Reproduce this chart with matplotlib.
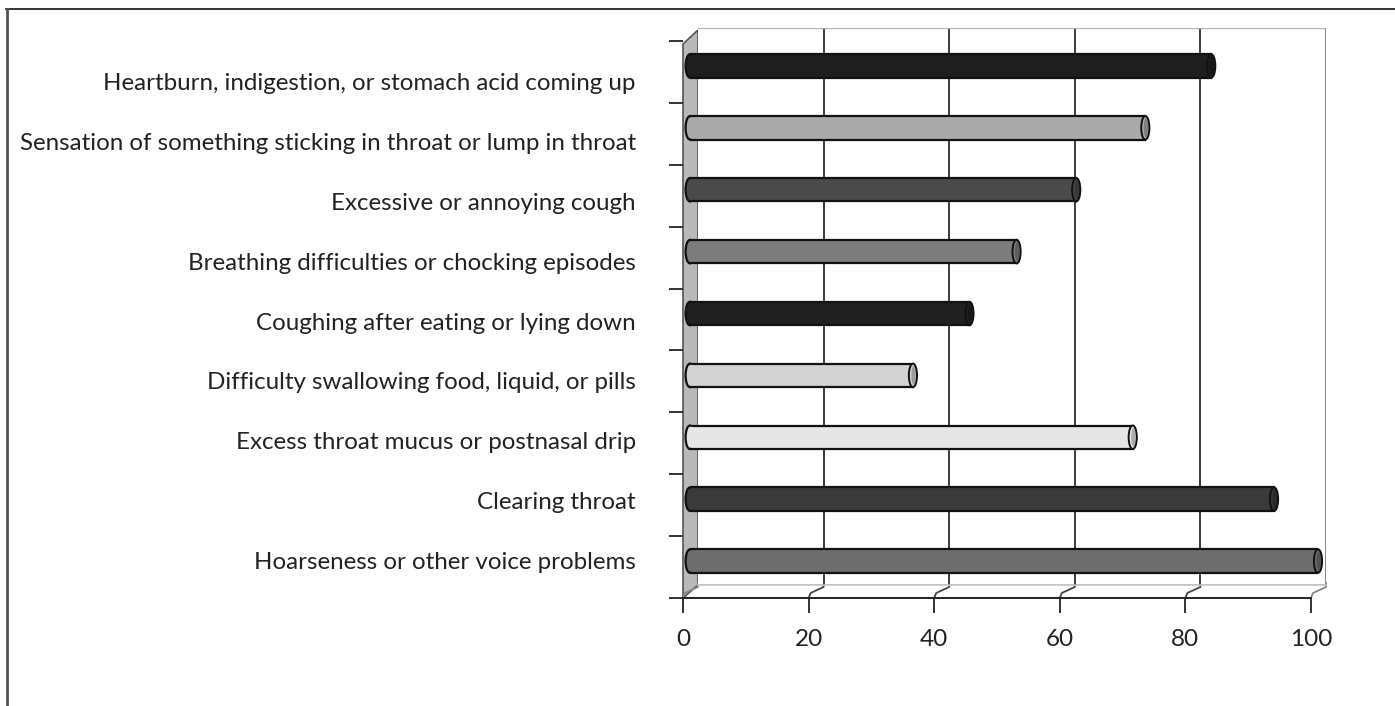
import matplotlib
matplotlib.use("Agg")
import matplotlib.pyplot as plt
from matplotlib.patches import Polygon, Ellipse
from matplotlib.lines import Line2D
from matplotlib.transforms import Affine2D

# symptoms, bottom to top
symptoms = [
    "Hoarseness or other voice problems",
    "Clearing throat",
    "Excess throat mucus or postnasal drip",
    "Difficulty swallowing food, liquid, or pills",
    "Coughing after eating or lying down",
    "Breathing difficulties or chocking episodes",
    "Excessive or annoying cough",
    "Sensation of something sticking in throat or lump in throat",
    "Heartburn, indigestion, or stomach acid coming up",
]
values = [100, 93, 70.5, 35.5, 44.5, 52, 61.5, 72.5, 83]
bar_colors = ["#6e6e6e", "#3a3a3a", "#e6e6e6", "#d2d2d2", "#202020",
              "#7c7c7c", "#4a4a4a", "#aaaaaa", "#1e1e1e"]
xticks = [0, 20, 40, 60, 80, 100]

W, H = 1395, 706
plt.rcParams['font.family'] = ['Lato', 'DejaVu Sans']
fig = plt.figure(figsize=(W / 100, H / 100), dpi=100)


def px_rect(l, t, r, b):
    return [l / W, 1 - b / H, (r - l) / W, (b - t) / H]


# pixel transform for decorations (origin top-left)
pix = Affine2D().scale(1 / W, -1 / H).translate(0, 1) + fig.transFigure

n = len(symptoms)
ylim = (-0.5, n - 0.5)

# back wall
back = fig.add_axes(px_rect(698, 28, 1326, 585))
back.set_xlim(0, 100)
back.set_ylim(*ylim)
back.set_facecolor("white")
for s in back.spines.values():
    s.set_visible(False)
back.set_xticks([])
back.set_yticks([])
for x in xticks[1:-1]:
    back.axvline(x, color="#3a3a3a", lw=1.4, zorder=1)
back.axvline(100, color="#8c8c8c", lw=2.2, zorder=1)
back.axhline(ylim[1], color="#b0b0b0", lw=1.6, zorder=1)
back.axhline(ylim[0], color="#b8b8b8", lw=1.2, zorder=1)

# left side wall and floor (behind the bars)
fig.add_artist(Polygon([(683, 44), (698, 30), (698, 585), (683, 598)], closed=True,
                       facecolor="#b9b9b9", edgecolor="#555555", lw=1.2, transform=pix,
                       zorder=-1))
for i, x in enumerate(xticks):
    xf = 683 + 628 * x / 100
    xb = 698 + 628 * x / 100
    fig.add_artist(Line2D([xf, xf + 2, xb, xb], [598, 593, 587, 583],
                          color="#444444" if 0 < i < len(xticks) - 1 else "#888888",
                          lw=1.3, transform=pix, zorder=-1))
fig.add_artist(Line2D([698, 1326], [585, 585], color="#c8c8c8", lw=1.2, transform=pix,
                      zorder=-1))

# bars (cylinders: rounded start, flat body, elliptical end cap)
bax = fig.add_axes(px_rect(690, 35, 1318, 592))
bax.set_xlim(0, 100)
bax.set_ylim(*ylim)
bax.axis("off")
bh = 0.38
ypos = list(range(n))
for y, c in zip(ypos, bar_colors):
    bax.add_patch(Ellipse((0, y), 1.4, bh, facecolor=c, edgecolor="#111111", lw=1.6,
                          zorder=2, clip_on=False))
bax.barh(ypos, values, height=bh, color=bar_colors, edgecolor="#111111", lw=1.6, zorder=3)
for y, c in zip(ypos, bar_colors):
    bax.add_patch(Ellipse((0.2, y), 1.2, bh * 0.9, facecolor=c, lw=0, zorder=4,
                          clip_on=False))
for y, v, c in zip(ypos, values, bar_colors):
    bax.add_patch(Ellipse((v, y), 1.3, bh, facecolor=c, edgecolor="#111111", lw=1.4,
                          zorder=5, clip_on=False))
    bax.add_patch(Ellipse((v + 0.1, y), 0.7, bh * 0.8, facecolor="black", alpha=0.25,
                          lw=0, zorder=6, clip_on=False))

# front axis
front = fig.add_axes(px_rect(683, 41, 1311, 598))
front.set_facecolor("none")
front.set_xlim(0, 100)
front.set_ylim(*ylim)
for s in ["top", "right", "left"]:
    front.spines[s].set_visible(False)
front.spines["bottom"].set_color("#222222")
front.spines["bottom"].set_linewidth(1.4)
front.set_xticks(xticks)
front.set_xticklabels([str(x) for x in xticks], fontsize=17.5, color="#222222")
front.tick_params(axis="x", length=11, width=1.4, color="#333333", pad=11)
front.set_yticks([y - 0.5 for y in range(n + 1)])
front.set_yticklabels([])
front.tick_params(axis="y", length=10, width=1.4, color="#333333")

# category labels
lax = fig.add_axes(px_rect(683, 52, 1311, 590))
lax.set_facecolor("none")
lax.set_ylim(*ylim)
for s in lax.spines.values():
    s.set_visible(False)
lax.set_xticks([])
lax.set_yticks(ypos)
lax.set_yticklabels(symptoms, fontsize=17.4, color="#222222")
lax.tick_params(axis="y", length=0, pad=34)

# outer frame
fig.add_artist(Line2D([6, W], [9, 9], color="#111111", lw=1.2, transform=pix))
fig.add_artist(Line2D([7, 7], [9, H], color="#555555", lw=2, transform=pix))

fig.savefig("out.png", dpi=100)
